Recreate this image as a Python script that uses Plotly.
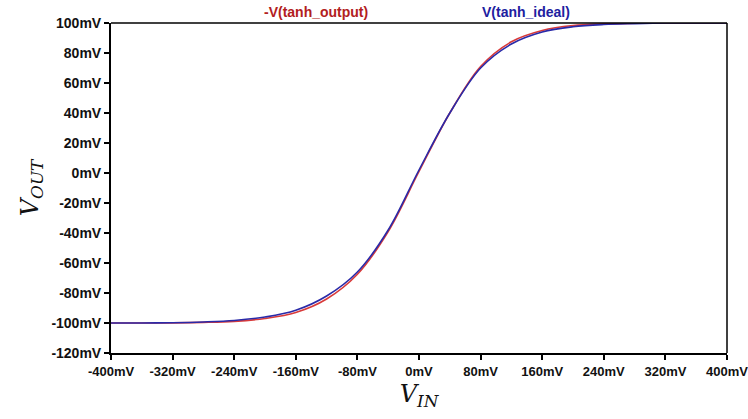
import plotly.graph_objects as go

vin_mv = [-400, -360, -320, -280, -240, -200, -160, -120, -80, -40, 0, 40, 80, 120, 160, 200, 240, 280, 320, 360, 400]
v_ideal = [-100, -100, -99.8, -99.3, -98.3, -96.0, -91.5, -82.0, -66.0, -38.0, 2.0, 40.0, 70.0, 86.0, 94.0, 97.5, 99.0, 99.6, 100, 100, 100]
v_output = [-100, -100, -99.9, -99.6, -98.9, -97.0, -93.0, -84.0, -67.5, -39.0, 1.0, 40.0, 71.0, 87.5, 95.0, 98.3, 99.4, 99.8, 100, 100, 100]

x_ticks = [-400, -320, -240, -160, -80, 0, 80, 160, 240, 320, 400]
y_ticks = [-120, -100, -80, -60, -40, -20, 0, 20, 40, 60, 80, 100]

fig = go.Figure()
fig.add_trace(go.Scatter(x=vin_mv, y=v_output, mode="lines", line=dict(color="#d83a3a", width=1.6, shape="spline"),
                         name="-V(tanh_output)"))
fig.add_trace(go.Scatter(x=vin_mv, y=v_ideal, mode="lines", line=dict(color="#2a2aa8", width=1.6, shape="spline"),
                         name="V(tanh_ideal)"))

xtickfont = dict(family="Liberation Sans, Arial", size=13, color="#111")
ytickfont = dict(family="Liberation Sans, Arial", size=14, color="#111")
titlefont = dict(family="DejaVu Serif, serif", size=24, color="#111")
fig.update_layout(
    width=748, height=419, margin=dict(l=111, r=21, t=23, b=66, autoexpand=False),
    paper_bgcolor="white", plot_bgcolor="white", showlegend=False,
    xaxis=dict(range=[-400, 400], tickvals=x_ticks, ticktext=[f"<b>{v}mV</b>" for v in x_ticks],
               showgrid=False, zeroline=False, showline=True, linecolor="black", linewidth=2,
               ticks="outside", ticklen=5, tickwidth=2, tickcolor="black", tickfont=xtickfont, automargin=False,
               ticklabeloverflow="allow",
               title=dict(text="<i>V<sub>IN</sub></i>", font=titlefont, standoff=8)),
    yaxis=dict(range=[-120, 100], tickvals=y_ticks, ticktext=[f"<b>{v}mV</b>" for v in y_ticks],
               showgrid=False, zeroline=False, showline=True, linecolor="black", linewidth=2,
               ticks="outside", ticklen=5, tickwidth=2, tickcolor="black", tickfont=ytickfont, automargin=False,
               ticklabeloverflow="allow",
               title=dict(text="<i>V<sub>OUT</sub></i>", font=titlefont, standoff=6)),
    shapes=[
        dict(type="line", xref="paper", yref="paper", x0=0, x1=1, y0=1, y1=1, line=dict(color="black", width=1.5)),
        dict(type="line", xref="paper", yref="paper", x0=1, x1=1, y0=0, y1=1, line=dict(color="black", width=1.5)),
    ],
    annotations=[
        dict(text="<b>-V(tanh_output)</b>", xref="paper", yref="paper", x=0.245, y=1.0, yanchor="bottom", yshift=1,
             showarrow=False, font=dict(family="Liberation Sans, Arial", size=14, color="#b22020")),
        dict(text="<b>V(tanh_ideal)</b>", xref="paper", yref="paper", x=0.748, y=1.0, yanchor="bottom", yshift=1,
             showarrow=False, font=dict(family="Liberation Sans, Arial", size=14, color="#2020a0")),
    ],
)
fig.write_html("out.html")
